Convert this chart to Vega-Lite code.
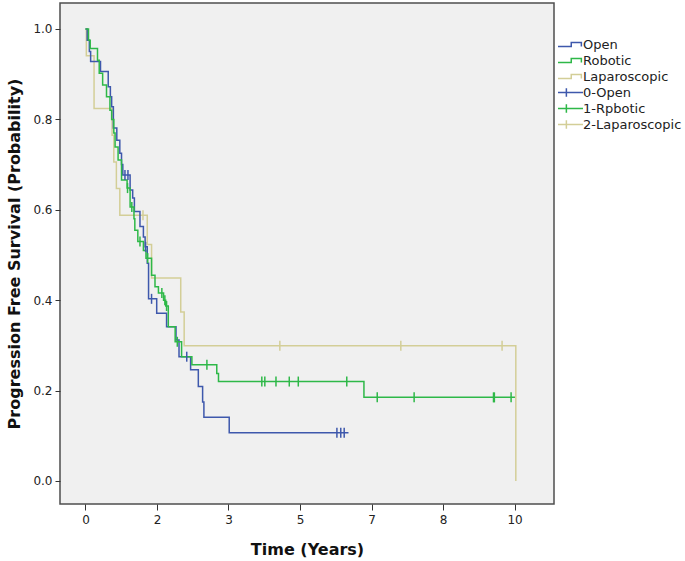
{
  "$schema": "https://vega.github.io/schema/vega-lite/v6.json",
  "width": 494,
  "height": 501,
  "autosize": {"type": "none"},
  "padding": {"left": 60, "top": 3, "right": 131, "bottom": 57},
  "background": "white",
  "config": {
    "view": {"fill": "#f0f0f0", "stroke": "#4d4d4d", "strokeWidth": 1.5},
    "font": "DejaVu Sans",
    "axis": {"grid": false, "domain": false, "tickColor": "#333333", "labelColor": "#222222", "labelFontSize": 12, "titleFontSize": 16, "titleFontWeight": "bold", "titleColor": "#111111", "labelFont": "DejaVu Sans", "titleFont": "DejaVu Sans"}
  },
  "datasets": {
    "lines": [
      {"t": 0, "s": 1.0, "g": "Laparoscopic"},
      {"t": 0.02, "s": 0.941, "g": "Laparoscopic"},
      {"t": 0.20, "s": 0.824, "g": "Laparoscopic"},
      {"t": 0.62, "s": 0.765, "g": "Laparoscopic"},
      {"t": 0.66, "s": 0.706, "g": "Laparoscopic"},
      {"t": 0.72, "s": 0.647, "g": "Laparoscopic"},
      {"t": 0.80, "s": 0.588, "g": "Laparoscopic"},
      {"t": 1.44, "s": 0.523, "g": "Laparoscopic"},
      {"t": 1.54, "s": 0.449, "g": "Laparoscopic"},
      {"t": 2.22, "s": 0.374, "g": "Laparoscopic"},
      {"t": 2.30, "s": 0.299, "g": "Laparoscopic"},
      {"t": 10.03, "s": 0.0, "g": "Laparoscopic"},
      {"t": 0, "s": 1.0, "g": "Open"},
      {"t": 0.04, "s": 0.975, "g": "Open"},
      {"t": 0.09, "s": 0.95, "g": "Open"},
      {"t": 0.12, "s": 0.928, "g": "Open"},
      {"t": 0.35, "s": 0.906, "g": "Open"},
      {"t": 0.53, "s": 0.872, "g": "Open"},
      {"t": 0.58, "s": 0.85, "g": "Open"},
      {"t": 0.61, "s": 0.828, "g": "Open"},
      {"t": 0.65, "s": 0.781, "g": "Open"},
      {"t": 0.73, "s": 0.754, "g": "Open"},
      {"t": 0.80, "s": 0.725, "g": "Open"},
      {"t": 0.84, "s": 0.70, "g": "Open"},
      {"t": 0.87, "s": 0.677, "g": "Open"},
      {"t": 1.04, "s": 0.644, "g": "Open"},
      {"t": 1.10, "s": 0.626, "g": "Open"},
      {"t": 1.14, "s": 0.596, "g": "Open"},
      {"t": 1.27, "s": 0.563, "g": "Open"},
      {"t": 1.35, "s": 0.54, "g": "Open"},
      {"t": 1.39, "s": 0.518, "g": "Open"},
      {"t": 1.44, "s": 0.482, "g": "Open"},
      {"t": 1.47, "s": 0.403, "g": "Open"},
      {"t": 1.66, "s": 0.371, "g": "Open"},
      {"t": 1.89, "s": 0.341, "g": "Open"},
      {"t": 2.11, "s": 0.312, "g": "Open"},
      {"t": 2.18, "s": 0.275, "g": "Open"},
      {"t": 2.45, "s": 0.246, "g": "Open"},
      {"t": 2.63, "s": 0.209, "g": "Open"},
      {"t": 2.73, "s": 0.175, "g": "Open"},
      {"t": 2.76, "s": 0.141, "g": "Open"},
      {"t": 3.35, "s": 0.107, "g": "Open"},
      {"t": 6.13, "s": 0.107, "g": "Open"},
      {"t": 0, "s": 1.0, "g": "Robotic"},
      {"t": 0.07, "s": 0.975, "g": "Robotic"},
      {"t": 0.11, "s": 0.957, "g": "Robotic"},
      {"t": 0.28, "s": 0.931, "g": "Robotic"},
      {"t": 0.32, "s": 0.902, "g": "Robotic"},
      {"t": 0.40, "s": 0.876, "g": "Robotic"},
      {"t": 0.49, "s": 0.85, "g": "Robotic"},
      {"t": 0.57, "s": 0.82, "g": "Robotic"},
      {"t": 0.61, "s": 0.80, "g": "Robotic"},
      {"t": 0.66, "s": 0.77, "g": "Robotic"},
      {"t": 0.69, "s": 0.739, "g": "Robotic"},
      {"t": 0.76, "s": 0.71, "g": "Robotic"},
      {"t": 0.84, "s": 0.666, "g": "Robotic"},
      {"t": 0.97, "s": 0.648, "g": "Robotic"},
      {"t": 1.04, "s": 0.606, "g": "Robotic"},
      {"t": 1.13, "s": 0.58, "g": "Robotic"},
      {"t": 1.15, "s": 0.555, "g": "Robotic"},
      {"t": 1.22, "s": 0.53, "g": "Robotic"},
      {"t": 1.35, "s": 0.51, "g": "Robotic"},
      {"t": 1.41, "s": 0.493, "g": "Robotic"},
      {"t": 1.54, "s": 0.455, "g": "Robotic"},
      {"t": 1.62, "s": 0.43, "g": "Robotic"},
      {"t": 1.70, "s": 0.416, "g": "Robotic"},
      {"t": 1.82, "s": 0.40, "g": "Robotic"},
      {"t": 1.87, "s": 0.387, "g": "Robotic"},
      {"t": 1.93, "s": 0.341, "g": "Robotic"},
      {"t": 2.09, "s": 0.308, "g": "Robotic"},
      {"t": 2.24, "s": 0.275, "g": "Robotic"},
      {"t": 2.48, "s": 0.257, "g": "Robotic"},
      {"t": 3.06, "s": 0.238, "g": "Robotic"},
      {"t": 3.10, "s": 0.22, "g": "Robotic"},
      {"t": 6.49, "s": 0.185, "g": "Robotic"},
      {"t": 10.01, "s": 0.185, "g": "Robotic"}
    ],
    "censor": [
      {"t": 1.34, "s": 0.588, "g": "2-Laparoscopic"},
      {"t": 4.53, "s": 0.299, "g": "2-Laparoscopic"},
      {"t": 7.35, "s": 0.299, "g": "2-Laparoscopic"},
      {"t": 9.71, "s": 0.299, "g": "2-Laparoscopic"},
      {"t": 0.92, "s": 0.677, "g": "0-Open"},
      {"t": 0.99, "s": 0.677, "g": "0-Open"},
      {"t": 1.40, "s": 0.518, "g": "0-Open"},
      {"t": 1.54, "s": 0.403, "g": "0-Open"},
      {"t": 2.36, "s": 0.275, "g": "0-Open"},
      {"t": 5.86, "s": 0.107, "g": "0-Open"},
      {"t": 5.95, "s": 0.107, "g": "0-Open"},
      {"t": 6.03, "s": 0.107, "g": "0-Open"},
      {"t": 0.98, "s": 0.648, "g": "1-Rpbotic"},
      {"t": 1.08, "s": 0.606, "g": "1-Rpbotic"},
      {"t": 1.27, "s": 0.53, "g": "1-Rpbotic"},
      {"t": 1.45, "s": 0.493, "g": "1-Rpbotic"},
      {"t": 1.78, "s": 0.416, "g": "1-Rpbotic"},
      {"t": 1.85, "s": 0.40, "g": "1-Rpbotic"},
      {"t": 1.89, "s": 0.387, "g": "1-Rpbotic"},
      {"t": 2.14, "s": 0.308, "g": "1-Rpbotic"},
      {"t": 2.83, "s": 0.257, "g": "1-Rpbotic"},
      {"t": 4.11, "s": 0.22, "g": "1-Rpbotic"},
      {"t": 4.18, "s": 0.22, "g": "1-Rpbotic"},
      {"t": 4.44, "s": 0.22, "g": "1-Rpbotic"},
      {"t": 4.75, "s": 0.22, "g": "1-Rpbotic"},
      {"t": 4.96, "s": 0.22, "g": "1-Rpbotic"},
      {"t": 6.09, "s": 0.22, "g": "1-Rpbotic"},
      {"t": 6.80, "s": 0.185, "g": "1-Rpbotic"},
      {"t": 7.66, "s": 0.185, "g": "1-Rpbotic"},
      {"t": 9.51, "s": 0.185, "g": "1-Rpbotic"},
      {"t": 9.53, "s": 0.185, "g": "1-Rpbotic"},
      {"t": 9.92, "s": 0.185, "g": "1-Rpbotic"}
    ]
  },
  "layer": [
    {
      "data": {"name": "lines"},
      "mark": {"type": "line", "interpolate": "step-after", "strokeWidth": 1.5},
      "encoding": {
        "x": {"field": "t", "type": "quantitative", "scale": {"domain": [-0.594, 10.92], "nice": false, "zero": false},
              "axis": {"title": "Time (Years)", "values": [0, 1.6667, 3.3333, 5, 6.6667, 8.3333, 10], "format": ".0f", "tickSize": 6, "labelPadding": 4, "titleY": 45, "titleBaseline": "middle"}},
        "y": {"field": "s", "type": "quantitative", "scale": {"domain": [-0.0509, 1.0575], "nice": false, "zero": false},
              "axis": {"title": "Progression Free Survival (Probability)", "values": [0, 0.2, 0.4, 0.6, 0.8, 1.0], "format": ".1f", "tickSize": 5, "labelPadding": 3, "titleX": -46, "titleY": 250.5, "titleBaseline": "middle"}},
        "color": {"field": "g", "type": "nominal",
          "scale": {"domain": ["Open", "Robotic", "Laparoscopic", "0-Open", "1-Rpbotic", "2-Laparoscopic"], "range": ["#3E58AC", "#2EB848", "#D3CE97", "#3E58AC", "#2EB848", "#D3CE97"]},
          "legend": {"title": null, "orient": "none", "legendX": 502, "legendY": 33, "padding": 0, "symbolSize": 225, "symbolStrokeWidth": 1.5, "labelFontSize": 13, "labelFont": "DejaVu Sans", "labelColor": "#222222", "labelOffset": 4, "rowPadding": -1,
            "encode": {"symbols": {"update": {
              "shape": {"signal": "indexof(['Open','Robotic','Laparoscopic'], datum.value) >= 0 ? 'M-1.667,0.27H0.1V-0.27H1.45V0.27' : 'M-1.667,0H1.667M-0.55,-0.56V0.56'"},
              "fill": {"value": "transparent"},
              "stroke": {"scale": "color", "field": "value"},
              "strokeWidth": {"value": 1.5},
              "opacity": {"value": 1}
            }}}
          }
        }
      }
    },
    {
      "data": {"name": "censor"},
      "mark": {"type": "point", "shape": "M0,-1V1", "size": 100, "strokeWidth": 1.5, "filled": false, "opacity": 1},
      "encoding": {
        "x": {"field": "t", "type": "quantitative"},
        "y": {"field": "s", "type": "quantitative"},
        "color": {"field": "g", "type": "nominal"}
      }
    }
  ]
}
